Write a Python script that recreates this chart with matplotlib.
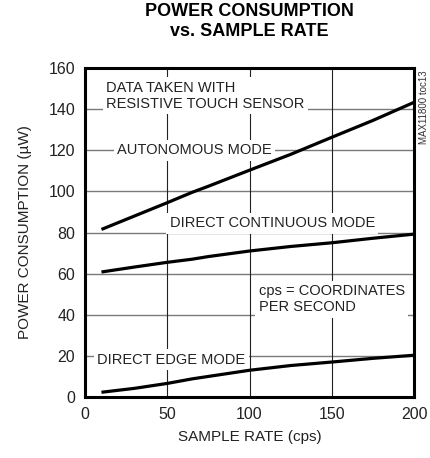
import matplotlib
matplotlib.use("Agg")
import matplotlib.pyplot as plt

plt.rcParams["font.family"] = ["Liberation Sans", "DejaVu Sans"]

# sample rate (cps)
rate = [10, 30, 50, 65, 75, 100, 125, 150, 175, 200]

autonomous = [81.5, 88.0, 94.5, 99.5, 102.5, 110.3, 118.0, 126.3, 134.5, 143.3]
direct_continuous = [60.8, 63.2, 65.5, 67.0, 68.3, 71.0, 73.2, 75.0, 77.2, 79.2]
direct_edge = [2.3, 4.2, 6.6, 8.8, 10.0, 13.0, 15.3, 17.0, 18.8, 20.3]

x_ticks = [0, 50, 100, 150, 200]
y_ticks = [0, 20, 40, 60, 80, 100, 120, 140, 160]

fig = plt.figure(figsize=(4.30, 4.58), dpi=100)
ax = fig.add_axes([0.1977, 0.1332, 0.7651, 0.7183])

for y in y_ticks[1:-1]:
    ax.axhline(y, color="#7a7a7a", lw=1.0, zorder=1)
for x in x_ticks[1:-1]:
    ax.axvline(x, color="#222222", lw=0.8, zorder=1)

for series in (autonomous, direct_continuous, direct_edge):
    ax.plot(rate, series, color="black", lw=2.3, zorder=3, solid_capstyle="butt")

# labels sit on white boxes that break the grid, but stay under the curves
box = dict(facecolor="white", edgecolor="none", pad=2.5)
txt = dict(fontsize=10.5, color="#222222", zorder=2, bbox=box)

ax.text(13, 146.5, "DATA TAKEN WITH\nRESISTIVE TOUCH SENSOR", ha="left", va="center",
        linespacing=1.2, **txt)
ax.text(19.5, 120, "AUTONOMOUS MODE", ha="left", va="center", **txt)
ax.text(51.5, 84.5, "DIRECT CONTINUOUS MODE", ha="left", va="center", **txt)
ax.text(105.5, 47.5, "cps = COORDINATES\nPER SECOND", ha="left", va="center",
        linespacing=1.2, **txt)
ax.text(7.3, 18, "DIRECT EDGE MODE", ha="left", va="center", **txt)

ax.set_xlim(0, 200)
ax.set_ylim(0, 160)
ax.set_xticks(x_ticks)
ax.set_yticks(y_ticks)
ax.tick_params(length=0, labelsize=11.5, pad=7, colors="#222222")
for s in ax.spines.values():
    s.set_linewidth(2.2)
    s.set_color("black")
    s.set_zorder(5)

ax.set_xlabel("SAMPLE RATE (cps)", fontsize=11, color="#222222", labelpad=6)
ax.set_ylabel("POWER CONSUMPTION (\u00b5W)", fontsize=11, color="#222222", labelpad=12)

fig.text(0.579, 0.953, "POWER CONSUMPTION\nvs. SAMPLE RATE", ha="center", va="center",
         fontsize=13, fontweight="bold", linespacing=1.2)
fig.text(0.986, 0.765, "MAX11800 toc13", rotation=90, ha="center", va="center",
         fontsize=7, color="#333333")

fig.savefig("out.png", dpi=100)
